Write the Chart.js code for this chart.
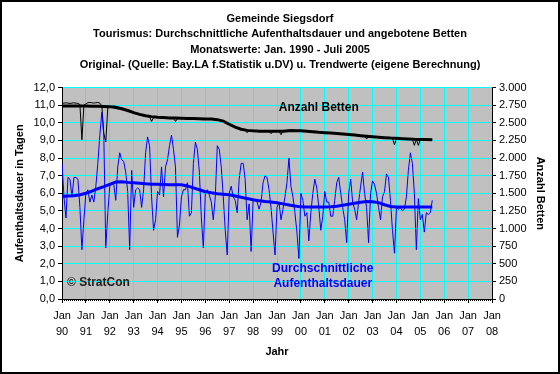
<!DOCTYPE html>
<html>
<head>
<meta charset="utf-8">
<script src="https://cdn.jsdelivr.net/npm/chart.js@4.4.1/dist/chart.umd.min.js"></script>
<style>
  html, body { margin: 0; padding: 0; background: #fff; }
  canvas { display: block; }
</style>
</head>
<body>
<canvas id="chart" width="560" height="374"></canvas>
<script>
// --- Daten (Monatswerte Jan. 1990 - Juli 2005) ---
const yearLabels = ['90','91','92','93','94','95','96','97','98','99','00','01','02','03','04','05','06','07','08'];
const trendStep = 3;   // Trendwerte: ein Wert pro Quartal

// Durchschnittliche Aufenthaltsdauer (Tage), ein Wert pro Monat
const dauerMonat = [
  7.7, 5.8, 4.6, 6.9, 6.8, 5.8, 6.9, 6.9, 6.8, 5.2, 2.8, 4.5,   // 1990
  6.0, 6.2, 5.5, 5.9, 5.5, 6.4, 7.7, 9.3, 10.6, 9.3, 2.9, 4.9,  // 1991
  6.4, 6.6, 6.5, 5.6, 7.5, 8.3, 7.9, 7.8, 7.2, 6.1, 2.8, 7.3,   // 1992
  5.2, 6.2, 6.3, 6.2, 5.2, 6.2, 8.3, 9.2, 8.7, 5.8, 3.9, 4.5,   // 1993
  6.1, 5.9, 7.5, 5.8, 7.5, 7.9, 8.7, 9.3, 8.5, 7.5, 3.5, 4.2,   // 1994
  5.8, 6.2, 6.2, 6.6, 4.7, 4.9, 7.7, 8.9, 8.5, 7.2, 4.6, 2.9,   // 1995
  6.0, 6.2, 5.9, 5.5, 4.5, 5.8, 8.7, 8.5, 7.5, 5.8, 3.9, 2.5,   // 1996
  6.0, 6.4, 5.8, 5.6, 4.9, 6.8, 7.7, 7.7, 6.8, 4.5, 5.4, 2.7,   // 1997
  5.6, 5.6, 5.5, 5.1, 5.5, 6.6, 7.0, 6.9, 6.2, 5.2, 3.8, 2.5,   // 1998
  5.2, 5.5, 4.5, 5.1, 5.8, 6.6, 8.0, 6.4, 5.8, 4.9, 3.8, 2.3,   // 1999
  6.0, 5.6, 4.7, 4.9, 3.3, 4.9, 6.0, 6.8, 6.3, 5.2, 3.9, 4.7,   // 2000
  6.1, 5.5, 5.5, 4.7, 4.7, 5.6, 6.6, 6.9, 6.0, 5.2, 4.5, 3.2,   // 2001
  6.0, 6.8, 5.5, 5.1, 4.5, 5.5, 6.4, 7.2, 6.0, 5.2, 3.2, 6.0,   // 2002
  6.7, 6.5, 6.0, 5.2, 4.5, 5.8, 6.1, 7.1, 6.9, 5.6, 3.9, 2.6,   // 2003
  5.2, 5.1, 5.2, 5.0, 5.1, 5.8, 7.3, 8.3, 7.7, 6.0, 2.8, 5.7,   // 2004
  4.5, 4.8, 3.8, 4.9, 4.8, 4.9, 5.6                              // 2005
];

// Trend der Aufenthaltsdauer (quartalsweise)
const dauerTrend = [
  5.82, 5.84, 5.86, 5.92, 6.00, 6.12, 6.26, 6.38, 6.51, 6.64, 6.65, 6.62,
  6.60, 6.57, 6.54, 6.52, 6.51, 6.50, 6.49, 6.48, 6.48, 6.42, 6.31, 6.20,
  6.09, 6.03, 5.98, 5.95, 5.92, 5.85, 5.78, 5.70, 5.63, 5.58, 5.53, 5.50,
  5.46, 5.40, 5.34, 5.28, 5.23, 5.22, 5.22, 5.22, 5.22, 5.24, 5.27, 5.32,
  5.38, 5.44, 5.49, 5.53, 5.52, 5.47, 5.35, 5.25, 5.22, 5.22, 5.22, 5.22,
  5.22, 5.22, 5.22
];

// Angebotene Betten, ein Wert pro Monat
const bettenMonat = [
  2775, 2780, 2785, 2780, 2775, 2780, 2785, 2780, 2775, 2760, 2260, 2750,  // 1990
  2770, 2785, 2790, 2785, 2780, 2785, 2790, 2780, 2740, 2350, 2230, 2710,  // 1991
  2725, 2730, 2740, 2735, 2725, 2720, 2710, 2700, 2690, 2680, 2660, 2650,  // 1992
  2640, 2630, 2620, 2615, 2610, 2600, 2595, 2590, 2585, 2520, 2575, 2580,  // 1993
  2580, 2578, 2575, 2572, 2570, 2570, 2570, 2568, 2565, 2520, 2560, 2565,  // 1994
  2565, 2563, 2562, 2560, 2560, 2560, 2560, 2558, 2558, 2555, 2550, 2555,  // 1995
  2556, 2555, 2553, 2553, 2552, 2550, 2545, 2540, 2530, 2520, 2510, 2500,  // 1996
  2480, 2470, 2460, 2440, 2430, 2415, 2410, 2400, 2395, 2360, 2390, 2390,  // 1997
  2386, 2385, 2384, 2382, 2381, 2380, 2380, 2380, 2380, 2346, 2380, 2380,  // 1998
  2380, 2381, 2332, 2382, 2384, 2390, 2395, 2400, 2400, 2395, 2390, 2388,  // 1999
  2388, 2386, 2384, 2382, 2378, 2374, 2372, 2370, 2368, 2366, 2364, 2362,  // 2000
  2360, 2358, 2357, 2356, 2355, 2353, 2351, 2350, 2348, 2345, 2343, 2340,  // 2001
  2335, 2332, 2330, 2327, 2325, 2322, 2320, 2318, 2315, 2270, 2310, 2308,  // 2002
  2303, 2300, 2298, 2296, 2294, 2292, 2290, 2288, 2286, 2284, 2282, 2190,  // 2003
  2280, 2278, 2276, 2275, 2274, 2272, 2270, 2268, 2267, 2180, 2266, 2180,  // 2004
  2264, 2263, 2262, 2262, 2261, 2261, 2261                                  // 2005
];

// Trend der Betten (quartalsweise)
const bettenTrend = [
  2740, 2740, 2740, 2739, 2738, 2737, 2735, 2733, 2730, 2718, 2700, 2675,
  2645, 2620, 2600, 2588, 2580, 2575, 2570, 2567, 2565, 2562, 2560, 2558,
  2556, 2553, 2545, 2525, 2480, 2440, 2410, 2393, 2386, 2382, 2380, 2380,
  2380, 2382, 2386, 2388, 2388, 2382, 2374, 2366, 2360, 2355, 2350, 2343,
  2335, 2326, 2318, 2311, 2303, 2296, 2290, 2284, 2280, 2275, 2270, 2266,
  2264, 2262, 2261
];

const FONT = "'Liberation Sans', Arial, sans-serif";

const monatlich = arr => arr.map((v, i) => ({ x: i, y: v }));
const quartal   = arr => arr.map((v, i) => ({ x: i * trendStep, y: v }));

// --- Plugin: grauer Plotbereich, Rahmen, Monatsstriche, Beschriftungen ---
const excelLook = {
  id: 'excelLook',
  beforeDraw(chart) {
    const { ctx, chartArea: a } = chart;
    ctx.save();
    ctx.fillStyle = '#C0C0C0';
    ctx.fillRect(a.left, a.top, a.right - a.left, a.bottom - a.top);
    ctx.restore();
  },
  afterDraw(chart) {
    const { ctx, chartArea: a, scales } = chart;
    const x = scales.x, y1 = scales.y1;
    ctx.save();
    // Monatsstriche an der x-Achse
    ctx.strokeStyle = '#000';
    ctx.lineWidth = 1;
    ctx.beginPath();
    for (let m = 0; m <= 216; m++) {
      const px = Math.round(x.getPixelForValue(m)) + 0.5;
      ctx.moveTo(px, a.bottom);
      ctx.lineTo(px, a.bottom + 2);
    }
    ctx.stroke();

    // Texte im Diagramm
    ctx.font = 'bold 12px ' + FONT;
    ctx.textAlign = 'center';
    ctx.textBaseline = 'middle';
    ctx.fillStyle = '#000';
    ctx.fillText('Anzahl Betten', x.getPixelForValue(129), y1.getPixelForValue(2710));
    ctx.fillStyle = '#0000FF';
    ctx.fillText('Durchschnittliche', x.getPixelForValue(131), y1.getPixelForValue(434));
    ctx.fillText('Aufenthaltsdauer', x.getPixelForValue(131), y1.getPixelForValue(220));
    ctx.fillStyle = '#1a1a1a';
    ctx.textAlign = 'left';
    ctx.fillText('\u00A9 StratCon', x.getPixelForValue(2.5), y1.getPixelForValue(235));

    // Rahmen ums Bild
    ctx.strokeStyle = '#000';
    ctx.lineWidth = 2;
    ctx.strokeRect(1, 1, chart.width - 2, chart.height - 2);
    ctx.restore();
  }
};

const ctx = document.getElementById('chart').getContext('2d');
new Chart(ctx, {
  type: 'line',
  data: {
    datasets: [
      { data: monatlich(dauerMonat),  yAxisID: 'y',  borderColor: '#0000FF', borderWidth: 1 },
      { data: quartal(dauerTrend),    yAxisID: 'y',  borderColor: '#0000FF', borderWidth: 3 },
      { data: monatlich(bettenMonat), yAxisID: 'y1', borderColor: '#000000', borderWidth: 1 },
      { data: quartal(bettenTrend),   yAxisID: 'y1', borderColor: '#000000', borderWidth: 3 }
    ]
  },
  options: {
    responsive: false,
    animation: false,
    devicePixelRatio: 1,
    elements: { point: { radius: 0 }, line: { tension: 0, fill: false } },
    layout: { padding: 0 },
    plugins: {
      legend: { display: false },
      tooltip: { enabled: false },
      title: {
        display: true,
        text: [
          'Gemeinde Siegsdorf',
          'Tourismus: Durchschnittliche Aufenthaltsdauer und angebotene Betten',
          'Monatswerte: Jan. 1990 - Juli 2005',
          'Original- (Quelle: Bay.LA f.Statistik u.DV) u. Trendwerte (eigene Berechnung)'
        ],
        color: '#000',
        font: { family: FONT, size: 11, weight: 'bold', lineHeight: 1.4 },
        padding: { top: 11, bottom: 15 }
      }
    },
    scales: {
      x: {
        type: 'linear',
        min: 0,
        max: 216,
        ticks: {
          stepSize: 12,
          autoSkip: false,
          maxRotation: 0,
          color: '#000',
          font: { family: FONT, size: 11, lineHeight: 1.45 },
          padding: 5,
          callback: v => ['Jan', yearLabels[v / 12]]
        },
        grid: { color: '#00FFFF', lineWidth: 1, tickLength: 4, tickColor: '#000' },
        border: { display: true, color: '#000', width: 1 },
        title: { display: true, text: 'Jahr', color: '#000', font: { family: FONT, size: 11, weight: 'bold' }, padding: { top: 0, bottom: 15 } },
        afterFit: s => { s.height = 75; }
      },
      y: {
        position: 'left',
        min: 0,
        max: 12,
        ticks: {
          stepSize: 1,
          color: '#000',
          font: { family: FONT, size: 11 },
          padding: 3,
          callback: v => v.toFixed(1).replace('.', ',')
        },
        grid: { drawOnChartArea: false, tickLength: 4, tickColor: '#000' },
        border: { display: true, color: '#000', width: 1 },
        title: { display: true, text: 'Aufenthaltsdauer in Tagen', color: '#000', font: { family: FONT, size: 11, weight: 'bold' }, padding: { top: 13, bottom: 0 } },
        afterFit: s => { s.width = 62; }
      },
      y1: {
        position: 'right',
        min: 0,
        max: 3000,
        ticks: {
          stepSize: 250,
          color: '#000',
          font: { family: FONT, size: 11 },
          padding: 3,
          callback: v => v.toLocaleString('de-DE')
        },
        grid: { color: '#00FFFF', lineWidth: 1, tickLength: 4, tickColor: '#000' },
        border: { display: true, color: '#000', width: 1 },
        title: { display: true, text: 'Anzahl Betten', color: '#000', font: { family: FONT, size: 11, weight: 'bold' }, padding: { top: 13, bottom: 0 } },
        afterFit: s => { s.width = 68; }
      }
    }
  },
  plugins: [excelLook]
});
</script>
</body>
</html>
